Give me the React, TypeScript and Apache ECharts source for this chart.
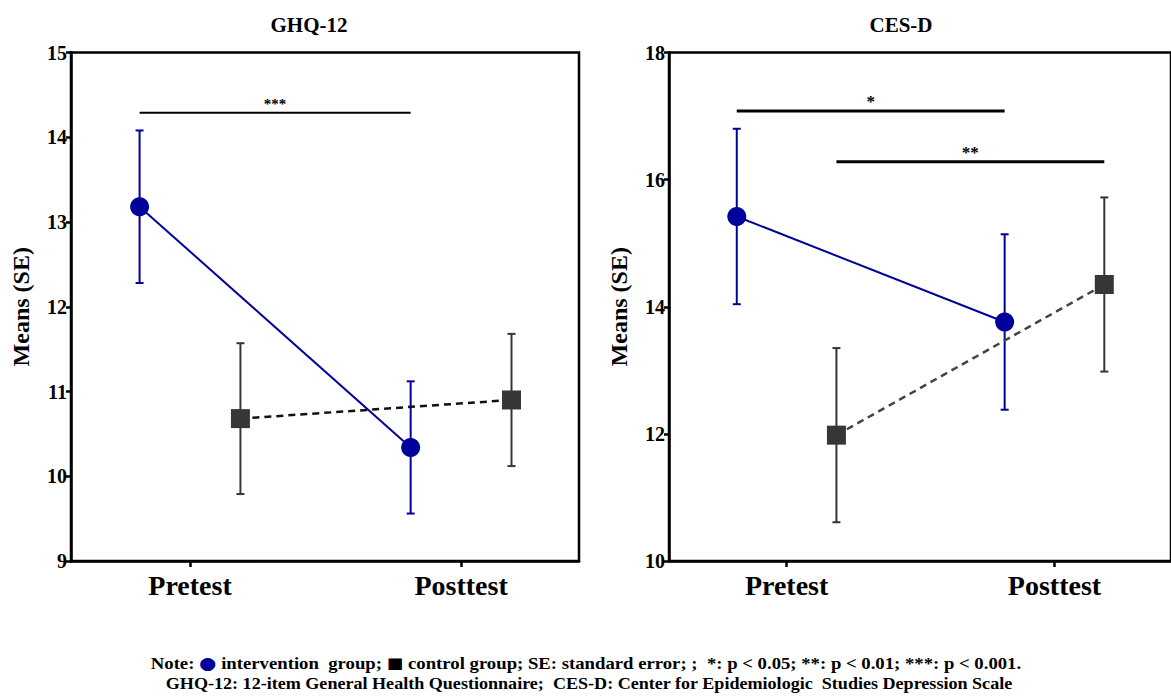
import React, { useEffect, useRef } from "react";
import * as echarts from "echarts";

const categories = ["Pretest", "Posttest"];
const groupNames = ["intervention group", "control group"];

// GHQ-12 means and standard errors
const ghqIntervention = [13.18, 10.34];
const ghqInterventionSE = [0.9, 0.78];
const ghqControl = [10.68, 10.9];
const ghqControlSE = [0.89, 0.78];

// CES-D means and standard errors
const cesIntervention = [15.42, 13.76];
const cesInterventionSE = [1.38, 1.38];
const cesControl = [11.98, 14.35];
const cesControlSE = [1.37, 1.37];

// Significance brackets: from [category, group] to [category, group], height, label
const ghqSig = [{ from: [0, 0], to: [1, 0], y: 14.29, label: "***" }];
const cesSig = [
  { from: [0, 0], to: [1, 0], y: 17.08, label: "*" },
  { from: [0, 1], to: [1, 1], y: 16.28, label: "**" },
];

const ghqRange = { min: 9, max: 15, interval: 1 };
const cesRange = { min: 10, max: 18, interval: 2 };

const titles = ["GHQ-12", "CES-D"];
const yName = "Means (SE)";
const noteLine1 =
  "Note: {c|●} intervention  group; {s|■} control group; SE: standard error; ;  *: p < 0.05; **: p < 0.01; ***: p < 0.001.";
const noteLine2 =
  "GHQ-12: 12-item General Health Questionnaire;  CES-D: Center for Epidemiologic  Studies Depression Scale";

const DODGE = 0.186;
const FONT = "Liberation Serif";
const BLUE = "#00009a";
const GREY = "#363636";

const xPos = (cat: number, grp: number) => cat + (grp === 0 ? -DODGE : DODGE);

function makeErr(idx: number, grp: number, means: number[], se: number[], color: string) {
  return {
    type: "custom",
    xAxisIndex: idx,
    yAxisIndex: idx,
    z: 1,
    silent: true,
    data: means.map((m, i) => [xPos(i, grp), m - se[i], m + se[i]]),
    renderItem: (params: any, api: any) => {
      const x = api.value(0);
      const lo = api.coord([x, api.value(1)]);
      const hi = api.coord([x, api.value(2)]);
      const cap = 4;
      const st = { stroke: color, lineWidth: 2 };
      return {
        type: "group",
        children: [
          { type: "line", shape: { x1: lo[0], y1: lo[1], x2: hi[0], y2: hi[1] }, style: st },
          { type: "line", shape: { x1: lo[0] - cap, y1: lo[1], x2: lo[0] + cap, y2: lo[1] }, style: st },
          { type: "line", shape: { x1: hi[0] - cap, y1: hi[1], x2: hi[0] + cap, y2: hi[1] }, style: st },
        ],
      };
    },
  };
}

function makeSig(idx: number, sig: any[], lw: number, fs: number) {
  return {
    type: "custom",
    xAxisIndex: idx,
    yAxisIndex: idx,
    z: 3,
    silent: true,
    data: sig.map((s) => [xPos(s.from[0], s.from[1]), xPos(s.to[0], s.to[1]), s.y]),
    renderItem: (params: any, api: any) => {
      const y = api.value(2);
      const p1 = api.coord([api.value(0), y]);
      const p2 = api.coord([api.value(1), y]);
      return {
        type: "group",
        children: [
          { type: "line", shape: { x1: p1[0], y1: p1[1], x2: p2[0], y2: p2[1] }, style: { stroke: "#000", lineWidth: lw } },
          {
            type: "text",
            x: (p1[0] + p2[0]) / 2,
            y: p1[1] - 1,
            style: {
              text: sig[params.dataIndex].label,
              fill: "#000",
              fontSize: fs,
              fontWeight: "bold",
              fontFamily: FONT,
              align: "center",
              verticalAlign: "bottom",
            },
          },
        ],
      };
    },
  };
}

function lineSeries(idx: number, grp: number, means: number[], dashed: boolean, dashColor: string) {
  return {
    type: "line",
    name: groupNames[grp],
    xAxisIndex: idx,
    yAxisIndex: idx,
    z: 2,
    data: means.map((m, i) => [xPos(i, grp), m]),
    symbol: grp === 0 ? "circle" : "rect",
    symbolSize: 19,
    itemStyle: { color: grp === 0 ? BLUE : GREY },
    lineStyle: dashed
      ? { color: dashColor, width: 2.5, type: [7, 5] }
      : { color: BLUE, width: 2 },
  };
}

export default function App() {
  const ref = useRef<HTMLDivElement>(null);
  useEffect(() => {
    if (!ref.current) return;
    const chart = echarts.init(ref.current, null, { renderer: "svg" });
    const grids = [
      { left: 71, top: 52.5, width: 508, height: 508.5 },
      { left: 669, top: 52.5, width: 508, height: 508.5 },
    ];
    const ranges = [ghqRange, cesRange];
    const xAxis = [0, 1].map((i) => ({
      type: "value",
      gridIndex: i,
      min: -0.439,
      max: 1.435,
      splitLine: { show: false },
      axisLine: { show: true, onZero: false, lineStyle: { color: "#000", width: 2.5 } },
      axisTick: { show: true, customValues: [0, 1], length: 6, lineStyle: { color: "#000", width: 2.5 } },
      axisLabel: {
        customValues: [0, 1],
        formatter: (v: number) => categories[Math.round(v)] ?? "",
        color: "#000",
        fontFamily: FONT,
        fontWeight: "bold",
        fontSize: 28,
        margin: 10,
      },
    }));
    const yAxis = [0, 1].map((i) => ({
      type: "value",
      gridIndex: i,
      min: ranges[i].min,
      max: ranges[i].max,
      interval: ranges[i].interval,
      name: yName,
      nameLocation: "middle",
      nameGap: 38,
      nameTextStyle: { color: "#000", fontFamily: FONT, fontWeight: "bold", fontSize: 24 },
      splitLine: { show: false },
      axisLine: { show: true, onZero: false, lineStyle: { color: "#000", width: 2.5 } },
      axisTick: { show: true, length: 5, lineStyle: { color: "#000", width: 2.5 } },
      axisLabel: { color: "#000", fontFamily: FONT, fontWeight: "bold", fontSize: 20, margin: 4 },
    }));
    const textBase = { fill: "#000", fontFamily: FONT, fontWeight: "bold", align: "center", verticalAlign: "middle" };
    chart.setOption({
      animation: false,
      grid: grids.map((g) => ({ ...g, show: true, borderColor: "#000", borderWidth: 2.5, backgroundColor: "transparent" })),
      xAxis,
      yAxis,
      graphic: [
        { type: "text", x: 309, y: 25, style: { ...textBase, text: titles[0], fontSize: 21 } },
        { type: "text", x: 901, y: 25, style: { ...textBase, text: titles[1], fontSize: 21 } },
        {
          type: "text",
          x: 586,
          y: 663,
          scaleX: 1.17,
          style: {
            ...textBase,
            text: noteLine1,
            fontSize: 16,
            rich: {
              c: { fill: BLUE, fontSize: 17, fontFamily: "DejaVu Sans" },
              s: { fill: "#000", fontSize: 15, fontFamily: "DejaVu Sans" },
            },
          },
        },
        {
          type: "text",
          x: 589,
          y: 684,
          scaleX: 1.13,
          style: { ...textBase, text: noteLine2, fontSize: 16 },
        },
      ],
      series: [
        makeErr(0, 0, ghqIntervention, ghqInterventionSE, BLUE),
        makeErr(0, 1, ghqControl, ghqControlSE, GREY),
        lineSeries(0, 0, ghqIntervention, false, BLUE),
        lineSeries(0, 1, ghqControl, true, "#111"),
        makeSig(0, ghqSig, 2, 15),
        makeErr(1, 0, cesIntervention, cesInterventionSE, BLUE),
        makeErr(1, 1, cesControl, cesControlSE, GREY),
        lineSeries(1, 0, cesIntervention, false, BLUE),
        lineSeries(1, 1, cesControl, true, "#444"),
        makeSig(1, cesSig, 3, 17),
      ],
    });
    return () => chart.dispose();
  }, []);
  return <div ref={ref} style={{ position: "absolute", left: 0, top: 0, width: 1171, height: 699 }} />;
}
